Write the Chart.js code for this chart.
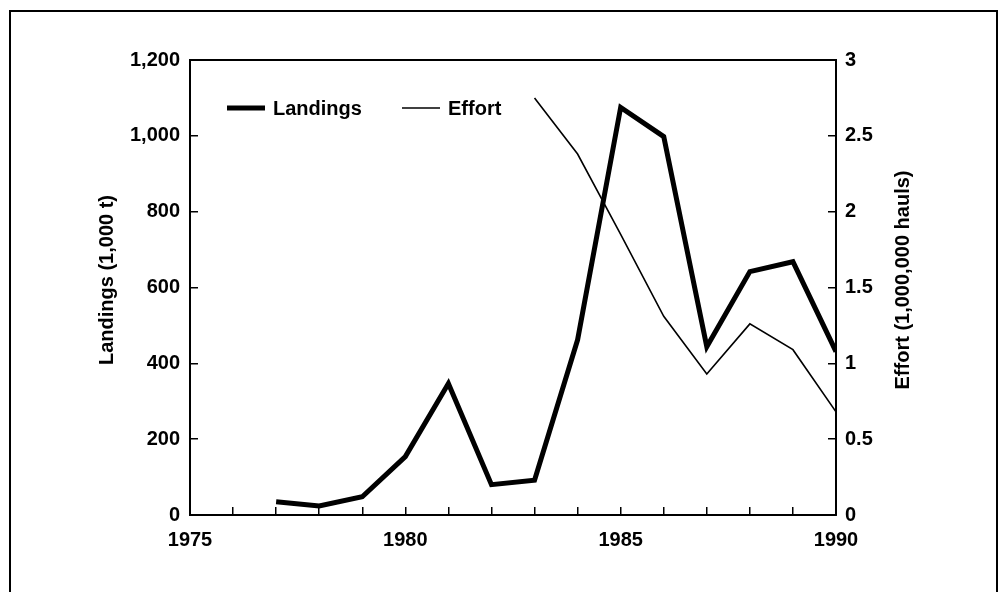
<!DOCTYPE html>
<html><head><meta charset="utf-8">
<script src="https://cdn.jsdelivr.net/npm/chart.js@4.4.0/dist/chart.umd.min.js"></script>
<style>html,body{margin:0;padding:0;background:#fff;}#wrap{width:1000px;height:592px;position:relative;}</style>
</head><body><div id="wrap"><canvas id="c" width="1000" height="592"></canvas></div>
<script>
const landingYears = [1977, 1978, 1979, 1980, 1981, 1982, 1983, 1984, 1985, 1986, 1987, 1988, 1989, 1990];
const landings = [35, 24, 48, 154, 347, 80, 92, 462, 1075, 998, 444, 642, 668, 431];
const effortYears = [1983, 1984, 1985, 1986, 1987, 1988, 1989, 1990];
const effort = [2.75, 2.38, 1.85, 1.31, 0.93, 1.26, 1.09, 0.68];
const xLabelYears = [1975, 1980, 1985, 1990];
const leftTitle = 'Landings (1,000 t)';
const rightTitle = 'Effort (1,000,000 hauls)';
const seriesNames = ['Landings', 'Effort'];

const FONT = 'Liberation Sans, Arial, Helvetica, sans-serif';
Chart.defaults.color = '#000';
Chart.defaults.font.family = FONT;

const decor = {
  id: 'decor',
  afterDraw(chart) {
    const ctx = chart.ctx;
    const a = chart.chartArea;
    ctx.save();
    ctx.strokeStyle = '#000';
    ctx.fillStyle = '#000';
    // top border of plot box
    ctx.lineWidth = 2;
    ctx.beginPath();
    ctx.moveTo(a.left, a.top);
    ctx.lineTo(a.right, a.top);
    ctx.stroke();
    // outer frame
    ctx.lineWidth = 2;
    ctx.beginPath();
    ctx.moveTo(10, 592);
    ctx.lineTo(10, 11);
    ctx.lineTo(997, 11);
    ctx.lineTo(997, 592);
    ctx.stroke();
    // axis titles
    ctx.font = 'bold 20px ' + FONT;
    ctx.textAlign = 'center';
    ctx.textBaseline = 'middle';
    ctx.save();
    ctx.translate(107, 280);
    ctx.rotate(-Math.PI / 2);
    ctx.fillText(leftTitle, 0, 0);
    ctx.restore();
    ctx.save();
    ctx.translate(903, 280);
    ctx.rotate(-Math.PI / 2);
    ctx.fillText(rightTitle, 0, 0);
    ctx.restore();
    // legend
    const ly = 108;
    ctx.lineWidth = 5;
    ctx.beginPath(); ctx.moveTo(227, ly); ctx.lineTo(265, ly); ctx.stroke();
    ctx.lineWidth = 1.5;
    ctx.beginPath(); ctx.moveTo(402, ly); ctx.lineTo(440, ly); ctx.stroke();
    ctx.textAlign = 'left';
    ctx.fillText(seriesNames[0], 273, ly + 1);
    ctx.fillText(seriesNames[1], 448, ly + 1);
    ctx.restore();
  }
};

const tickFont = {family: FONT, size: 20, weight: 'bold'};
new Chart(document.getElementById('c'), {
  type: 'line',
  data: {
    datasets: [
      {label: seriesNames[0], data: landingYears.map((y, i) => ({x: y, y: landings[i]})), yAxisID: 'y',
       borderColor: '#000', borderWidth: 5, pointRadius: 0, tension: 0, fill: false, borderJoinStyle: 'miter'},
      {label: seriesNames[1], data: effortYears.map((y, i) => ({x: y, y: effort[i]})), yAxisID: 'y1',
       borderColor: '#000', borderWidth: 1.6, pointRadius: 0, tension: 0, fill: false}
    ]
  },
  options: {
    responsive: false,
    animation: false,
    layout: {padding: {top: 60, left: 0, right: 0, bottom: 0}},
    plugins: {legend: {display: false}, tooltip: {enabled: false}},
    scales: {
      x: {
        type: 'linear', position: 'bottom', min: 1975, max: 1990,
        ticks: {stepSize: 1, autoSkip: false, maxRotation: 0, font: tickFont, padding: 21,
          callback: v => xLabelYears.includes(v) ? String(v) : ''},
        grid: {drawOnChartArea: false, drawTicks: true, tickLength: -8, color: '#000', lineWidth: 1.5},
        border: {display: true, color: '#000', width: 2},
        afterFit: s => { s.height = 77; }
      },
      y: {
        position: 'left', min: 0, max: 1200,
        ticks: {stepSize: 200, font: tickFont, padding: 18, callback: v => v.toLocaleString('en-US')},
        grid: {drawOnChartArea: false, drawTicks: true, tickLength: -8, color: '#000', lineWidth: 1.5},
        border: {display: true, color: '#000', width: 2},
        afterFit: s => { s.width = 190; }
      },
      y1: {
        position: 'right', min: 0, max: 3,
        ticks: {stepSize: 0.5, font: tickFont, padding: 17, callback: v => String(v)},
        grid: {drawOnChartArea: false, drawTicks: true, tickLength: -8, color: '#000', lineWidth: 1.5},
        border: {display: true, color: '#000', width: 2},
        afterFit: s => { s.width = 164; }
      }
    }
  },
  plugins: [decor]
});
</script></body></html>
